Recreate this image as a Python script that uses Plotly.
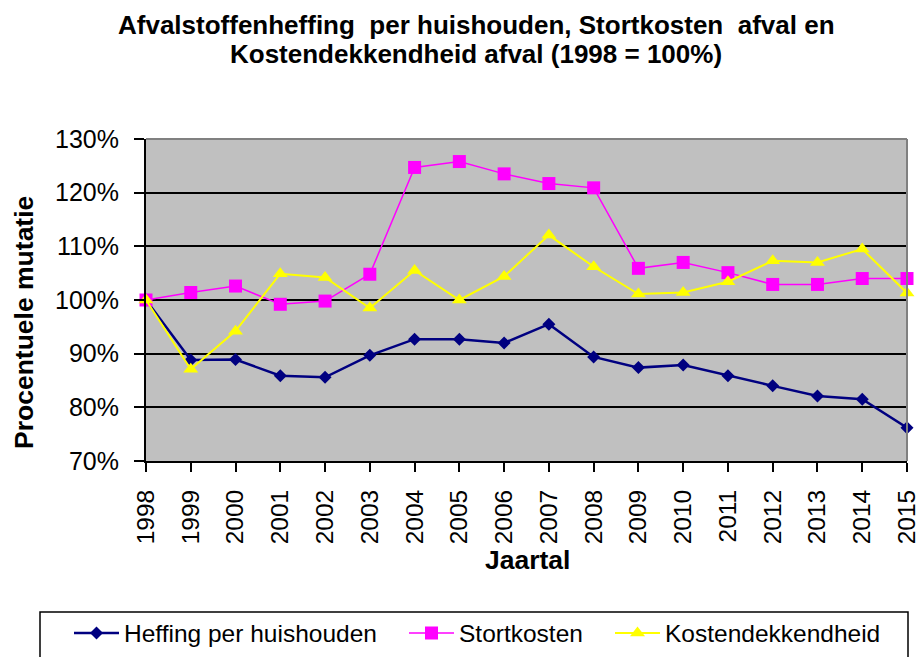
import plotly.graph_objects as go

years = list(range(1998, 2016))
heffing = [100, 88.8, 88.9, 85.9, 85.6, 89.7, 92.7, 92.7, 92.0, 95.5,
           89.4, 87.4, 87.9, 85.9, 84.0, 82.1, 81.5, 76.2]
stortkosten = [100, 101.4, 102.6, 99.2, 99.8, 104.8, 124.7, 125.8, 123.5, 121.7,
               120.9, 105.9, 107.0, 105.1, 102.9, 102.9, 104.0, 104.0]
kostendekkendheid = [100, 87.1, 94.2, 104.9, 104.2, 98.5, 105.5, 100.0, 104.4, 112.1,
                     106.2, 101.1, 101.4, 103.4, 107.3, 107.0, 109.5, 101.3]
series_names = ["Heffing per huishouden", "Stortkosten", "Kostendekkendheid"]
y_ticks = [0.7, 0.8, 0.9, 1.0, 1.1, 1.2, 1.3]

FONT = "Liberation Sans, Arial, sans-serif"

W, H = 917, 657
PLOT_L, PLOT_R, PLOT_T, PLOT_B = 146, 907, 139, 461  # pixels
L, R, T, B = PLOT_L, W - PLOT_R, PLOT_T, H - PLOT_B
PW = PLOT_R - PLOT_L
PH = PLOT_B - PLOT_T


def px_x(px):
    return (px - PLOT_L) / PW


def px_y(py):
    return (PLOT_B - py) / PH


fig = go.Figure()
fig.add_trace(go.Scatter(
    x=years, y=[v / 100 for v in heffing], name=series_names[0], mode="lines+markers",
    line=dict(color="#000080", width=2.5),
    marker=dict(symbol="diamond", size=10, color="#000080"),
    cliponaxis=False, legend="legend"))
fig.add_trace(go.Scatter(
    x=years, y=[v / 100 for v in stortkosten], name=series_names[1], mode="lines+markers",
    line=dict(color="#FF00FF", width=1.5),
    marker=dict(symbol="square", size=13, color="#FF00FF"),
    cliponaxis=False, legend="legend2"))
fig.add_trace(go.Scatter(
    x=years, y=[v / 100 for v in kostendekkendheid], name=series_names[2], mode="lines+markers",
    line=dict(color="#FFFF00", width=2),
    marker=dict(symbol="triangle-up", size=13, color="#FFFF00"),
    cliponaxis=False, legend="legend3"))

leg_common = dict(orientation="h", xanchor="left", yanchor="middle",
                  font=dict(family=FONT, size=24.5, color="#000000"),
                  bgcolor="rgba(0,0,0,0)", borderwidth=0, itemwidth=45)

fig.update_layout(
    width=W, height=H,
    margin=dict(l=L, r=R, t=T, b=B, pad=0, autoexpand=False),
    paper_bgcolor="white", plot_bgcolor="#C0C0C0",
    font=dict(family=FONT, color="#000000"),
    showlegend=True,
    legend=dict(x=px_x(69), y=px_y(633), **leg_common),
    legend2=dict(x=px_x(404), y=px_y(633), **leg_common),
    legend3=dict(x=px_x(610), y=px_y(633), **leg_common),
    xaxis=dict(range=[1998, 2015], tickvals=years, ticktext=[str(y) for y in years],
               tickangle=-90, ticks="outside", ticklen=9, tickwidth=2, tickcolor="#000000",
               showline=True, linecolor="#000000", linewidth=2, showgrid=False,
               zeroline=False, tickfont=dict(family=FONT, size=24.5, color="#000000"),
               ticklabelstandoff=8, ticklabeloverflow="allow"),
    yaxis=dict(range=[0.7, 1.3], tickvals=y_ticks, tickformat=".0%",
               ticks="outside", ticklen=10, tickwidth=2, tickcolor="#000000",
               showline=True, linecolor="#000000", linewidth=2,
               showgrid=True, gridcolor="#000000", gridwidth=2, zeroline=False,
               tickfont=dict(family=FONT, size=25, color="#000000"),
               ticklabelstandoff=10),
)

# plot-area border (top and right, grey)
fig.add_shape(type="line", xref="paper", yref="paper", x0=0, x1=1, y0=1, y1=1,
              line=dict(color="#808080", width=2))
fig.add_shape(type="line", xref="paper", yref="paper", x0=1, x1=1, y0=0, y1=1,
              line=dict(color="#808080", width=2))
# legend box
fig.add_shape(type="rect", xref="paper", yref="paper",
              x0=px_x(40), x1=px_x(908), y0=px_y(612), y1=px_y(700),
              line=dict(color="#000000", width=1.5), fillcolor="rgba(0,0,0,0)")

# titles
fig.add_annotation(text="<b>Afvalstoffenheffing  per huishouden, Stortkosten  afval en</b>",
                   xref="paper", yref="paper", x=px_x(476), y=px_y(25),
                   xanchor="center", yanchor="middle", showarrow=False,
                   font=dict(family=FONT, size=26, color="#000000"))
fig.add_annotation(text="<b>Kostendekkendheid afval (1998 = 100%)</b>",
                   xref="paper", yref="paper", x=px_x(476), y=px_y(54),
                   xanchor="center", yanchor="middle", showarrow=False,
                   font=dict(family=FONT, size=26, color="#000000"))
fig.add_annotation(text="<b>Procentuele mutatie</b>", textangle=-90,
                   xref="paper", yref="paper", x=px_x(24), y=px_y(323),
                   xanchor="center", yanchor="middle", showarrow=False,
                   font=dict(family=FONT, size=26.5, color="#000000"))
fig.add_annotation(text="<b>Jaartal</b>",
                   xref="paper", yref="paper", x=px_x(527), y=px_y(560),
                   xanchor="center", yanchor="middle", showarrow=False,
                   font=dict(family=FONT, size=26.5, color="#000000"))

fig.write_html(
    "out.html",
    config={"displayModeBar": False},
    post_script="document.body.style.margin='0';document.body.style.overflow='hidden';",
)
